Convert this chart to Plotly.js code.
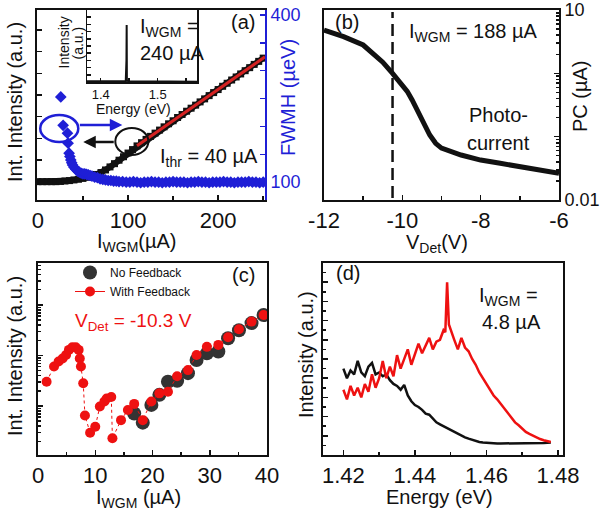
<!DOCTYPE html>
<html><head><meta charset="utf-8">
<script src="https://cdn.plot.ly/plotly-3.0.1.min.js"></script>
<style>html,body{margin:0;padding:0;background:#fff}#chart{width:603px;height:514px}</style>
</head><body><div id="chart"></div>
<script>
// ---------- Panel (a): integrated intensity and FWHM vs I_WGM ----------
const aCurrent = [0,5,10,15,20,25,30,35,40,45,50,55,60,65,70,75,80,85,90,95,100,105,110,115,120,125,130,135,140,145,150,155,160,165,170,175,180,185,190,195,200,205,210,215,220,225,230,235,240,245,250];
const aIntensity = [0,0,0,0,0,0.01,0.03,0.05,0.08,0.11,0.15,0.2,0.26,0.33,0.42,0.54,0.68,0.83,0.99,1.15,1.32,1.48,1.65,1.8,1.95,2.09,2.24,2.38,2.53,2.67,2.81,2.96,3.1,3.25,3.39,3.53,3.68,3.82,3.97,4.11,4.25,4.4,4.54,4.69,4.83,4.97,5.12,5.26,5.41,5.55,5.7];
const aFitCurrent = [110, 252];
const aFitIntensity = [1.66, 5.76];
const aFwhmCurrent = [25.4,28,32.8,33.5,34.6,35.5,36.5,37.5,38.5,40,42,44,46,48,50,52,54,56,58,60,63,66,69,72,75,78,81,84,87,90,94,98,102,106,110,114,118,122,126,130,134,138,142,146,150,154,158,162,166,170,174,178,182,186,190,194,198,202,206,210,214,218,222,226,230,234,238,242,246,250];
const aFwhm = [253,202,188,170,152,146,140,135,131,127,123,120,118,116,115,115,114,113,112,111,109,108,106,105,104,103,103,102,102,101,101,100,100,101,100,99,100,100,101,100,100,99,100,100,101,100,100,100,99,100,100,101,100,100,99,100,100,100,101,100,100,99,100,100,100,101,100,100,99,100];
const aLeftTicks = [0,1,2,3,4,5,6,7];
const aFwhmTicks = [100,150,200,250,300,350,400];
const aFwhmTickText = ['100','','','','','','400'];
// inset spectrum at I_WGM = 240 uA
const insetEnergy = [1.376,1.43,1.444,1.4452,1.4456,1.446,1.448,1.47,1.52,1.569];
const insetIntensity = [0.01,0.01,0.012,0.3,0.79,0.02,0.012,0.008,0.006,0.005];

// ---------- Panel (b): photocurrent vs V_Det ----------
const bVoltage = [-12,-11.5,-11,-10.75,-10.5,-10.25,-10,-9.875,-9.75,-9.625,-9.5,-9.4,-9.3,-9.15,-9,-8.5,-8,-7.5,-7,-6.5,-6];
const bPhotocurrent = [4.83,3.79,2.8,2.1,1.5,1.0,0.66,0.52,0.38,0.264,0.183,0.135,0.106,0.0785,0.066,0.0513,0.0427,0.038,0.0339,0.0298,0.0263];
const bDetLine = -10.25;
const bXTicks = [-12,-10,-8,-6];
const bXTickText = ['-12','-10','-8','-6'];
const bTickVals = [0.01,0.1,1,10];
const bTickText = ['0.01','','','10'];
const bMinorVals = [0.02,0.03,0.04,0.05,0.06,0.07,0.08,0.09,0.2,0.3,0.4,0.5,0.6,0.7,0.8,0.9,2,3,4,5,6,7,8,9];

// ---------- Panel (c): with / without feedback ----------
const cNoFbCurrent = [16.8,18.3,19.8,21.2,22.7,24.3,26.2,27.7,29.5,31.5,33.2,35.1,37.3,39.4];
const cNoFbIntensity = [0.708,0.468,1.05,1.66,3.02,3.16,4.47,8.13,11.0,12.0,21.9,31.6,43.7,63.1];
const cFbCurrent = [1.5,2.8,3.6,4.3,4.9,5.4,6.0,6.6,7.1,7.3,7.5,7.9,8.2,9.1,10.0,10.8,11.6,12.0,12.8,13.0,14.5,15.7,16.8,18.3,19.8,21.2,22.7,24.3,26.2,27.7,29.5,31.5,33.2,35.1,37.3,39.4];
const cFbIntensity = [3.02,6.03,7.59,8.71,10.2,12.9,14.5,14.5,12.9,8.71,6.03,2.82,0.646,0.295,0.389,0.977,1.23,1.41,1.51,0.229,0.525,0.832,1.10,0.525,1.23,1.78,1.91,3.89,5.13,10.2,14.8,16.2,22.9,33.1,46.8,63.1];
const cMinorVals = [0.2,0.3,0.4,0.5,0.6,0.7,0.8,0.9,2,3,4,5,6,7,8,9,20,30,40,50,60,70,80,90,200,300,400,500,600];

// ---------- Panel (d): spectra at I_WGM = 4.8 uA ----------
const dEnergy = [1.420,1.421,1.422,1.423,1.424,1.425,1.426,1.427,1.428,1.429,1.430,1.431,1.432,1.433,1.434,1.435,1.436,1.437,1.438,1.439,1.440,1.441,1.442,1.443,1.444,1.445,1.446,1.447,1.448,1.449,1.450,1.451,1.452,1.453,1.454,1.455,1.456,1.457,1.458,1.459,1.460,1.461,1.462,1.463,1.464,1.465,1.466,1.467,1.468,1.469,1.470,1.471,1.472,1.473,1.474,1.475,1.476,1.477,1.478];
const dNoFb = [0.45,0.40,0.44,0.42,0.49,0.43,0.41,0.46,0.48,0.42,0.43,0.41,0.42,0.39,0.37,0.36,0.34,0.365,0.31,0.28,0.26,0.25,0.235,0.215,0.21,0.19,0.17,0.16,0.15,0.14,0.13,0.12,0.11,0.10,0.092,0.085,0.078,0.072,0.068,0.065,0.063,0.062,0.061,0.06,0.06,0.06,0.06,0.06,0.06,0.06,0.06,0.06,0.061,0.061,0.062,0.062,0.063,0.064,0.065];
const dEnergyFb = [1.420,1.421,1.422,1.423,1.424,1.425,1.426,1.427,1.428,1.429,1.430,1.431,1.432,1.433,1.434,1.435,1.436,1.437,1.438,1.439,1.440,1.441,1.442,1.443,1.444,1.445,1.446,1.447,1.448,1.4485,1.449,1.4495,1.450,1.451,1.452,1.453,1.454,1.455,1.456,1.457,1.458,1.459,1.460,1.461,1.462,1.463,1.464,1.465,1.466,1.467,1.468,1.469,1.470,1.471,1.472,1.473,1.474,1.475,1.476,1.477,1.478];
const dFb = [0.34,0.29,0.36,0.31,0.35,0.30,0.37,0.33,0.42,0.35,0.40,0.49,0.40,0.46,0.41,0.52,0.45,0.50,0.55,0.47,0.52,0.58,0.53,0.57,0.61,0.55,0.59,0.60,0.65,0.64,0.90,0.68,0.65,0.60,0.55,0.61,0.56,0.54,0.50,0.47,0.43,0.40,0.37,0.34,0.31,0.29,0.265,0.24,0.215,0.19,0.17,0.155,0.135,0.12,0.11,0.10,0.09,0.083,0.077,0.072,0.068];

// ---------- layout helpers ----------
const W = 603, H = 514;
const FONT = 'Liberation Sans, Arial, sans-serif';
const BLUE = '#1f1fd6', RED = '#ee1111';
const px = x => x / W;
const py = y => 1 - y / H;
const TICKF = {family: FONT, size: 22, color: '#111'};

function ann(text, x, y, o) {
  o = o || {};
  return Object.assign({text: text, xref: 'paper', yref: 'paper', x: px(x), y: py(y),
    showarrow: false, xanchor: 'center', yanchor: 'middle',
    font: {family: FONT, size: o.size || 20, color: o.color || '#111'}}, o.extra || {});
}
function axBase(extra) {
  return Object.assign({showline: true, linecolor: '#111', linewidth: 2, ticks: 'inside',
    tickcolor: '#111', tickwidth: 1.5, ticklen: 5, showgrid: false, zeroline: false,
    tickfont: TICKF, fixedrange: true}, extra);
}

const data = [
  // (a) intensity
  {x: aCurrent, y: aIntensity, xaxis: 'x', yaxis: 'y', mode: 'lines+markers',
   line: {color: '#111', width: 6}, marker: {symbol: 'square', size: 7, color: '#111'}, showlegend: false},
  {x: aFitCurrent, y: aFitIntensity, xaxis: 'x', yaxis: 'y', mode: 'lines',
   line: {color: '#d42222', width: 3}, showlegend: false},
  // (a) FWHM
  {x: aFwhmCurrent, y: aFwhm, xaxis: 'x', yaxis: 'y2', mode: 'markers',
   marker: {symbol: 'diamond', size: 9, color: BLUE}, showlegend: false},
  // inset
  {x: insetEnergy, y: insetIntensity, xaxis: 'x6', yaxis: 'y6', mode: 'lines',
   line: {color: '#111', width: 2}, showlegend: false},
  // (b)
  {x: bVoltage, y: bPhotocurrent, xaxis: 'x3', yaxis: 'y3', mode: 'lines',
   line: {color: '#111', width: 5}, showlegend: false},
  // (c)
  {x: cNoFbCurrent, y: cNoFbIntensity, xaxis: 'x4', yaxis: 'y4', mode: 'markers', name: 'No Feedback',
   marker: {size: 14, color: '#333'}},
  {x: cFbCurrent, y: cFbIntensity, xaxis: 'x4', yaxis: 'y4', mode: 'lines+markers', name: 'With Feedback',
   line: {color: RED, width: 1, dash: '3px,3px'}, marker: {size: 10, color: RED}, showlegend: false},
  // legend entry for the feedback series (solid line, as in the figure's key)
  {x: [null], y: [null], xaxis: 'x4', yaxis: 'y4', mode: 'lines+markers', name: 'With Feedback',
   line: {color: RED, width: 1}, marker: {size: 10, color: RED}},
  // (d)
  {x: dEnergy, y: dNoFb, xaxis: 'x5', yaxis: 'y5', mode: 'lines',
   line: {color: '#111', width: 2.5}, showlegend: false},
  {x: dEnergyFb, y: dFb, xaxis: 'x5', yaxis: 'y5', mode: 'lines',
   line: {color: RED, width: 2.5}, showlegend: false}
];

const yTopDom = [py(200), py(10)];
const yBotDom = [py(455), py(263)];

const layout = {
  width: W, height: H, margin: {l: 0, r: 0, t: 0, b: 0},
  paper_bgcolor: '#fff', plot_bgcolor: 'rgba(0,0,0,0)',
  font: {family: FONT, color: '#111'},
  // (a)
  xaxis: axBase({domain: [px(37), px(265)], range: [-1, 252], anchor: 'y', mirror: true,
    tickvals: [0, 100, 200], minor: {tickvals: [50, 150, 250], ticks: 'inside', ticklen: 4, tickcolor: '#111'}}),
  yaxis: axBase({domain: yTopDom, range: [-0.846, 7.92], anchor: 'x', tickvals: aLeftTicks, showticklabels: false}),
  yaxis2: axBase({overlaying: 'y', side: 'right', anchor: 'x', range: [68, 409],
    linecolor: BLUE, tickcolor: BLUE, tickvals: aFwhmTicks, ticktext: aFwhmTickText,
    tickfont: {family: FONT, size: 18, color: BLUE}}),
  // inset
  xaxis6: axBase({domain: [px(87), px(197)], range: [1.376, 1.569], anchor: 'y6', mirror: true, linewidth: 1.5,
    tickvals: [1.4, 1.45, 1.5, 1.55], ticktext: ['1.4', '', '1.5', ''], ticklen: 4,
    tickfont: {family: FONT, size: 13, color: '#111'}}),
  yaxis6: axBase({domain: [py(82), py(10)], range: [0, 1], anchor: 'x6', mirror: true, linewidth: 1.5,
    dtick: 0.1, ticklen: 4, showticklabels: false}),
  // (b)
  xaxis3: axBase({domain: [px(324), px(559)], range: [-12, -6], anchor: 'y3', mirror: true,
    tickvals: bXTicks, ticktext: bXTickText,
    minor: {tickvals: [-11, -9, -7], ticks: 'inside', ticklen: 4, tickcolor: '#111'}}),
  yaxis3: axBase({domain: yTopDom, type: 'log', range: [-2, 1], anchor: 'x3', side: 'right', mirror: true,
    tickvals: bTickVals, ticktext: bTickText, tickfont: {family: FONT, size: 18, color: '#111'},
    minor: {tickvals: bMinorVals, ticks: 'inside', ticklen: 3, tickcolor: '#111'}}),
  // (c)
  xaxis4: axBase({domain: [px(38), px(267)], range: [0, 40], anchor: 'y4', mirror: true,
    tickvals: [0, 10, 20, 30, 40],
    minor: {tickvals: [5, 15, 25, 35], ticks: 'inside', ticklen: 3, tickcolor: '#111'}}),
  yaxis4: axBase({domain: yBotDom, type: 'log', range: [-0.97, 2.83], anchor: 'x4', mirror: true,
    tickvals: [1, 10, 100], showticklabels: false,
    minor: {tickvals: cMinorVals, ticks: 'inside', ticklen: 3, tickcolor: '#111'}}),
  // (d)
  xaxis5: axBase({domain: [px(323), px(563)], range: [1.4143, 1.4814], anchor: 'y5', mirror: true,
    tickvals: [1.42, 1.44, 1.46, 1.48],
    minor: {tickvals: [1.43, 1.45, 1.47], ticks: 'inside', ticklen: 3, tickcolor: '#111'}}),
  yaxis5: axBase({domain: yBotDom, range: [0, 1], anchor: 'x5', mirror: true, dtick: 0.1, showticklabels: false,
    minor: {dtick: 0.05, ticks: 'inside', ticklen: 3, tickcolor: '#111'}}),
  legend: {x: px(70), y: py(258), xanchor: 'left', yanchor: 'top', bgcolor: 'rgba(0,0,0,0)',
    font: {family: FONT, size: 12, color: '#111'}, tracegroupgap: 0, itemwidth: 30},
  shapes: [
    {type: 'circle', xref: 'x', yref: 'y', x0: 2.6, x1: 44.8, y0: 1.83, y1: 3.08, line: {color: BLUE, width: 2.5}},
    {type: 'circle', xref: 'x', yref: 'y', x0: 85.9, x1: 122.6, y0: 1.23, y1: 2.48, line: {color: '#111', width: 2}},
    {type: 'line', xref: 'x3', yref: 'paper', x0: bDetLine, x1: bDetLine, y0: py(198), y1: py(12),
     line: {color: '#111', width: 2.5, dash: '12px,6px'}}
  ],
  annotations: [
    // arrows in (a)
    {xref: 'x', yref: 'y', x: 93.7, y: 2.62, ax: -44, ay: 0, text: '', showarrow: true,
     arrowhead: 2, arrowsize: 1, arrowwidth: 2.5, arrowcolor: BLUE},
    {xref: 'x', yref: 'y', x: 50.3, y: 1.83, ax: 32, ay: 0, text: '', showarrow: true,
     arrowhead: 2, arrowsize: 1, arrowwidth: 2.5, arrowcolor: '#111'},
    // axis titles
    ann('Int. Intensity (a.u.)', 15, 102, {extra: {textangle: -90}}),
    ann('I<sub>WGM</sub>(µA)', 137, 242),
    ann('FWMH (µeV)', 288, 98, {color: BLUE, extra: {textangle: -90}}),
    ann('V<sub>Det</sub>(V)', 437, 243),
    ann('PC (µA)', 580, 96, {extra: {textangle: -90}}),
    ann('Int. Intensity (a.u.)', 15, 356, {extra: {textangle: -90}}),
    ann('I<sub>WGM</sub> (µA)', 138, 498),
    ann('Intensity (a.u.)', 306, 355, {extra: {textangle: -90}}),
    ann('Energy (eV)', 439, 497),
    // (a) texts
    ann('(a)', 243, 22),
    ann('I<sub>WGM</sub> =', 138, 27, {extra: {xanchor: 'left'}}),
    ann('240 µA', 138, 53, {extra: {xanchor: 'left'}}),
    ann('I<sub>thr</sub> = 40 µA', 158, 157, {extra: {xanchor: 'left'}}),
    ann('Intensity', 63.5, 43, {size: 14, extra: {textangle: -90}}),
    ann('(a.u.)', 77.5, 43, {size: 14, extra: {textangle: -90}}),
    ann('Energy (eV)', 133, 109, {size: 14}),
    // (b) texts
    ann('(b)', 347, 22),
    ann('I<sub>WGM</sub> = 188 µA', 473, 32),
    ann('Photo-', 467, 115, {extra: {xanchor: 'left'}}),
    ann('current', 465, 143, {extra: {xanchor: 'left'}}),
    // (c) texts
    ann('(c)', 243, 275),
    ann('V<sub>Det</sub> = -10.3 V', 133, 322, {size: 19, color: RED}),
    // (d) texts
    ann('(d)', 348, 273),
    ann('I<sub>WGM</sub> =', 477, 296, {extra: {xanchor: 'left'}}),
    ann('4.8 µA', 480, 322, {extra: {xanchor: 'left'}})
  ]
};

Plotly.newPlot('chart', data, layout, {displayModeBar: false, staticPlot: true});
</script>
</body></html>
